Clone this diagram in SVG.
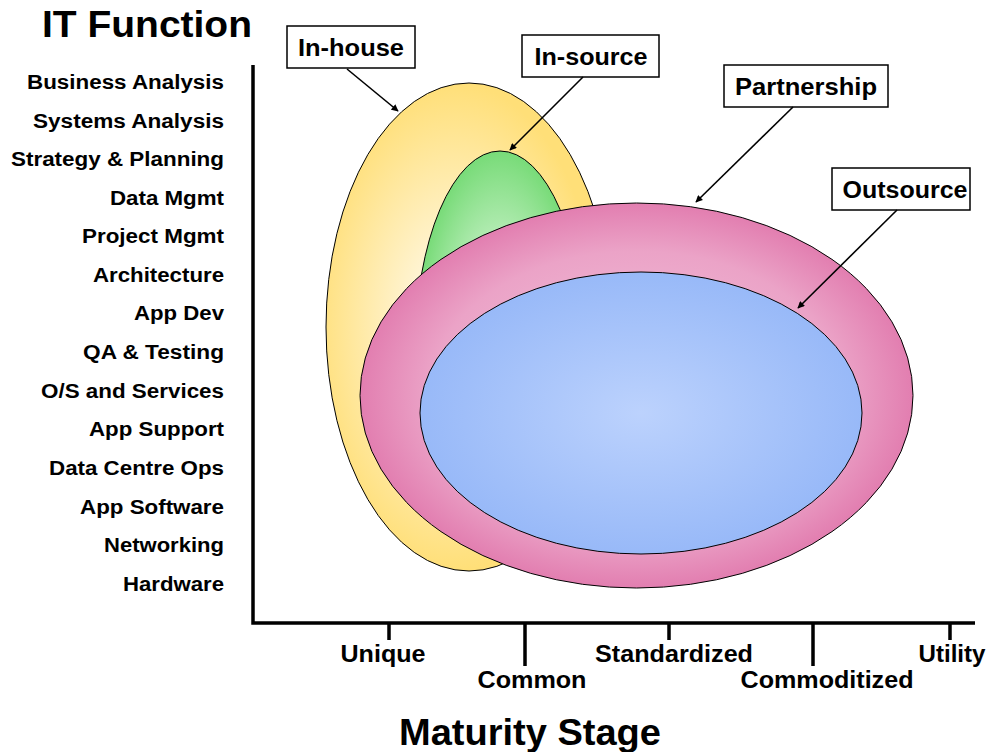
<svg xmlns="http://www.w3.org/2000/svg" width="990" height="752" viewBox="0 0 990 752">
<style>
text{font-family:"Liberation Sans",Arial,Helvetica,sans-serif;font-weight:bold;fill:#000}
.lab{font-size:20px;text-anchor:end}
.ax{font-size:23px;text-anchor:middle}
.box{fill:#fff;stroke:#000;stroke-width:1.5}
.bt{font-size:23px;text-anchor:middle}
.axis{stroke:#000;stroke-width:3.5;fill:none;stroke-linecap:butt}
.ell{stroke:#000;stroke-width:1}
.arr{stroke:#000;stroke-width:1.6;fill:none;marker-end:url(#ah)}
</style>
<defs>
<marker id="ah" viewBox="0 0 10 10" refX="9" refY="5" markerWidth="8" markerHeight="7" markerUnits="userSpaceOnUse" orient="auto">
<path d="M0,0 L10,5 L0,10 z" fill="#000"/>
</marker>
<radialGradient id="gy" cx="0.45" cy="0.5" r="0.5">
<stop offset="0" stop-color="#FFFCF2"/>
<stop offset="0.35" stop-color="#FFF3CF"/>
<stop offset="1" stop-color="#FFDF78"/>
</radialGradient>
<radialGradient id="gg" cx="0.5" cy="0.5" r="0.5">
<stop offset="0" stop-color="#E4FAE4"/>
<stop offset="0.5" stop-color="#BFEFBF"/>
<stop offset="1" stop-color="#78DB78"/>
</radialGradient>
<radialGradient id="gp" cx="0.5" cy="0.5" r="0.5">
<stop offset="0" stop-color="#F4C8DE"/>
<stop offset="0.75" stop-color="#EBA3C7"/>
<stop offset="1" stop-color="#E27EB0"/>
</radialGradient>
<radialGradient id="gb" cx="0.5" cy="0.5" r="0.5">
<stop offset="0" stop-color="#BCD2FD"/>
<stop offset="1" stop-color="#98B9F8"/>
</radialGradient>
</defs>

<text x="42" y="37" font-size="37" textLength="210" lengthAdjust="spacingAndGlyphs">IT Function</text>

<g id="function-labels">
<text class="lab" x="224" y="89" textLength="197" lengthAdjust="spacingAndGlyphs">Business Analysis</text>
<text class="lab" x="224" y="128" textLength="191" lengthAdjust="spacingAndGlyphs">Systems Analysis</text>
<text class="lab" x="224" y="166" textLength="213" lengthAdjust="spacingAndGlyphs">Strategy &amp; Planning</text>
<text class="lab" x="224" y="205" textLength="114" lengthAdjust="spacingAndGlyphs">Data Mgmt</text>
<text class="lab" x="224" y="243" textLength="142" lengthAdjust="spacingAndGlyphs">Project Mgmt</text>
<text class="lab" x="224" y="282" textLength="131" lengthAdjust="spacingAndGlyphs">Architecture</text>
<text class="lab" x="224" y="320" textLength="90" lengthAdjust="spacingAndGlyphs">App Dev</text>
<text class="lab" x="224" y="359" textLength="141" lengthAdjust="spacingAndGlyphs">QA &amp; Testing</text>
<text class="lab" x="224" y="398" textLength="183" lengthAdjust="spacingAndGlyphs">O/S and Services</text>
<text class="lab" x="224" y="436" textLength="135" lengthAdjust="spacingAndGlyphs">App Support</text>
<text class="lab" x="224" y="475" textLength="175" lengthAdjust="spacingAndGlyphs">Data Centre Ops</text>
<text class="lab" x="224" y="514" textLength="144" lengthAdjust="spacingAndGlyphs">App Software</text>
<text class="lab" x="224" y="552" textLength="120" lengthAdjust="spacingAndGlyphs">Networking</text>
<text class="lab" x="224" y="591" textLength="101" lengthAdjust="spacingAndGlyphs">Hardware</text>
</g>

<g id="axes">
<path class="axis" d="M253,65 V623 H975"/>
<path class="axis" d="M389,623 V640 M525,623 V666 M669,623 V640 M813,623 V666 M950,623 V640"/>
<text class="ax" x="383" y="662" textLength="85" lengthAdjust="spacingAndGlyphs">Unique</text>
<text class="ax" x="532" y="688" textLength="109" lengthAdjust="spacingAndGlyphs">Common</text>
<text class="ax" x="674" y="662" textLength="158" lengthAdjust="spacingAndGlyphs">Standardized</text>
<text class="ax" x="827" y="688" textLength="173" lengthAdjust="spacingAndGlyphs">Commoditized</text>
<text class="ax" x="952" y="662" textLength="67" lengthAdjust="spacingAndGlyphs">Utility</text>
<text x="530" y="745" font-size="36" text-anchor="middle" textLength="262" lengthAdjust="spacingAndGlyphs">Maturity Stage</text>
</g>

<g id="in-house-region"><ellipse class="ell" cx="469" cy="327" rx="143" ry="244" fill="url(#gy)"/></g>
<g id="in-source-region"><ellipse class="ell" cx="500" cy="351" rx="85" ry="200" fill="url(#gg)"/></g>
<g id="partnership-region"><ellipse class="ell" cx="636.5" cy="395.5" rx="276.5" ry="192.5" fill="url(#gp)"/></g>
<g id="outsource-region"><ellipse class="ell" cx="641" cy="413" rx="221" ry="141" fill="url(#gb)"/></g>

<g id="in-house">
<rect class="box" x="287" y="26" width="128" height="42"/>
<text class="bt" x="351" y="56" textLength="106" lengthAdjust="spacingAndGlyphs">In-house</text>
</g>
<g id="in-source">
<rect class="box" x="522" y="35" width="137" height="42"/>
<text class="bt" x="591" y="65" textLength="113" lengthAdjust="spacingAndGlyphs">In-source</text>
</g>
<g id="partnership">
<rect class="box" x="724" y="65" width="164" height="42"/>
<text class="bt" x="806" y="95" textLength="142" lengthAdjust="spacingAndGlyphs">Partnership</text>
</g>
<g id="outsource">
<rect class="box" x="832" y="168" width="138" height="42"/>
<text class="bt" x="905" y="198" textLength="125" lengthAdjust="spacingAndGlyphs">Outsource</text>
</g>

<g id="connectors">
<line class="arr" x1="347" y1="69" x2="398" y2="111"/>
<line class="arr" x1="583" y1="77" x2="510" y2="150"/>
<line class="arr" x1="793" y1="107" x2="696" y2="202"/>
<line class="arr" x1="897" y1="210" x2="798" y2="308"/>
</g>
</svg>
